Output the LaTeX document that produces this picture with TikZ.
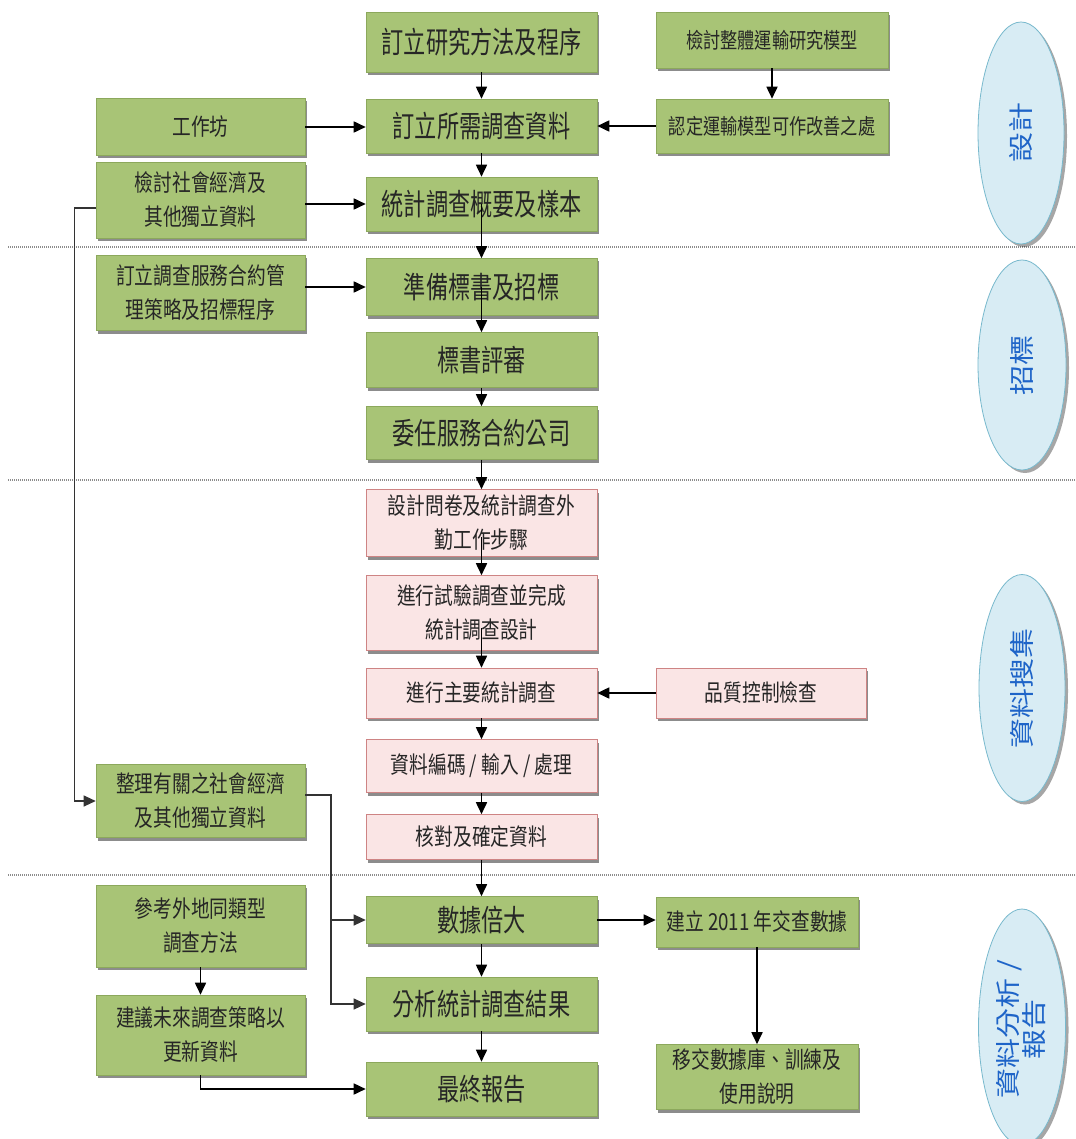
\documentclass[tikz,border=0pt]{standalone}
\usepackage{fontspec}
\setmainfont{Noto Sans CJK TC}
\newfontfamily\cjk[FakeStretch=0.8]{Noto Sans CJK TC}
\newfontfamily\cjkn[FakeStretch=0.74]{Noto Sans CJK TC}
\newfontfamily\cjkw[FakeStretch=1.2]{Noto Sans CJK TC}
\usetikzlibrary{arrows.meta,shapes.geometric,shadows}
\definecolor{gfill}{RGB}{168,196,118}
\definecolor{gline}{RGB}{140,168,92}
\definecolor{pfill}{RGB}{250,229,229}
\definecolor{pline}{RGB}{206,132,132}
\definecolor{efill}{RGB}{216,236,244}
\definecolor{eline}{RGB}{120,185,205}
\definecolor{etext}{RGB}{30,100,200}
\tikzset{
  basebox/.style={rectangle, inner sep=0pt, align=center, text=black!85, line width=0.6pt,
    drop shadow={shadow xshift=2pt, shadow yshift=-3pt, fill=black, opacity=0.45}},
  gbox/.style={basebox, fill=gfill, draw=gline},
  pbox/.style={basebox, fill=pfill, draw=pline},
  bigtxt/.style={font=\cjkn\fontsize{30}{34}\selectfont},
  smalltxt/.style={font=\cjk\fontsize{23.4}{34}\selectfont},
  toptxt/.style={font=\cjk\fontsize{21.5}{30}\selectfont},
  arr/.style={-{Triangle[length=12pt,width=11pt]}, line width=1.7pt, draw=black},
  link/.style={-{Triangle[length=12pt,width=11pt]}, line width=1.1pt, draw=black!80},
  sepline/.style={draw=black!45, line width=1.5pt, dash pattern=on 1pt off 1pt},
  phase/.style={ellipse, inner sep=0pt, fill=efill, draw=eline, line width=0.8pt,
    drop shadow={shadow xshift=3pt, shadow yshift=-3pt, fill=black, opacity=0.35}},
  phasetxt/.style={rotate=90, text=etext, align=center, font=\cjkw\fontsize{25}{26}\selectfont},
}
\begin{document}
\begin{tikzpicture}[x=1pt,y=-1pt]
\useasboundingbox (0,0) rectangle (1075,1139);
\fill[white] (0,0) rectangle (1075,1139);

% separators
\coordinate (s1a) at (8,247);  \coordinate (s1b) at (1075,247);
\coordinate (s2a) at (8,480);  \coordinate (s2b) at (1075,480);
\coordinate (s3a) at (8,875);  \coordinate (s3b) at (1075,875);
\draw[sepline] (s1a) -- (s1b);
\draw[sepline] (s2a) -- (s2b);
\draw[sepline] (s3a) -- (s3b);

% phase ellipses
\node[phase, minimum width=86pt, minimum height=222pt] (e1) at (1021,133) {};
\node[phasetxt] (e1t) at (1021,133) {設計};
\node[phase, minimum width=88pt, minimum height=210pt] (e2) at (1022,365) {};
\node[phasetxt] (e2t) at (1022,365) {招標};
\node[phase, minimum width=86pt, minimum height=227pt] (e3) at (1022,688) {};
\node[phasetxt] (e3t) at (1022,688) {資料搜集};
\node[phase, minimum width=87pt, minimum height=236pt] (e4) at (1022,1027) {};
\node[phasetxt] (e4t) at (1021,1029) {資料分析 /\\報告};

% centre column
\node[gbox, bigtxt, minimum width=231pt, minimum height=60pt] (c1) at (481.5,42) {訂立研究方法及程序};
\node[gbox, bigtxt, minimum width=231pt, minimum height=54pt] (c2) at (481.5,126) {訂立所需調查資料};
\node[gbox, bigtxt, minimum width=231pt, minimum height=54pt] (c3) at (481.5,204) {統計調查概要及樣本};
\node[gbox, bigtxt, minimum width=231pt, minimum height=57pt] (c4) at (481.5,287) {準備標書及招標};
\node[gbox, bigtxt, minimum width=231pt, minimum height=55pt] (c5) at (481.5,360) {標書評審};
\node[gbox, bigtxt, minimum width=231pt, minimum height=53pt] (c6) at (481.5,433) {委任服務合約公司};
\node[pbox, smalltxt, minimum width=231pt, minimum height=67pt] (p1) at (481.5,523) {設計問卷及統計調查外\\勤工作步驟};
\node[pbox, smalltxt, minimum width=231pt, minimum height=75pt] (p2) at (481.5,613) {進行試驗調查並完成\\統計調查設計};
\node[pbox, smalltxt, minimum width=231pt, minimum height=50pt] (p3) at (481.5,693) {進行主要統計調查};
\node[pbox, smalltxt, minimum width=231pt, minimum height=53pt] (p4) at (481.5,766) {資料編碼 / 輸入 / 處理};
\node[pbox, smalltxt, minimum width=231pt, minimum height=45pt] (p5) at (481.5,837) {核對及確定資料};
\node[gbox, bigtxt, minimum width=231pt, minimum height=47pt] (c7) at (481.5,920) {數據倍大};
\node[gbox, bigtxt, minimum width=231pt, minimum height=54pt] (c8) at (481.5,1004) {分析統計調查結果};
\node[gbox, bigtxt, minimum width=231pt, minimum height=54pt] (c9) at (481.5,1089) {最終報告};

% left column
\node[gbox, smalltxt, minimum width=209pt, minimum height=57pt] (l1) at (200.5,127) {工作坊};
\node[gbox, smalltxt, minimum width=209pt, minimum height=76pt] (l2) at (200.5,200) {檢討社會經濟及\\其他獨立資料};
\node[gbox, smalltxt, minimum width=209pt, minimum height=75pt] (l3) at (200.5,293) {訂立調查服務合約管\\理策略及招標程序};
\node[gbox, smalltxt, minimum width=209pt, minimum height=73pt] (l4) at (200.5,801) {整理有關之社會經濟\\及其他獨立資料};
\node[gbox, smalltxt, minimum width=209pt, minimum height=82pt] (l5) at (200.5,926) {參考外地同類型\\調查方法};
\node[gbox, smalltxt, minimum width=209pt, minimum height=80pt] (l6) at (200.5,1035) {建議未來調查策略以\\更新資料};

% right column
\node[gbox, toptxt, minimum width=232pt, minimum height=56pt] (r1) at (772,40) {檢討整體運輸研究模型};
\node[gbox, toptxt, minimum width=232pt, minimum height=54pt] (r2) at (772,126) {認定運輸模型可作改善之處};
\node[pbox, smalltxt, minimum width=210pt, minimum height=50pt] (r3) at (761,693) {品質控制檢查};
\node[gbox, smalltxt, minimum width=202pt, minimum height=50pt] (r4) at (757,922) {建立 2011 年交查數據};
\node[gbox, smalltxt, minimum width=202pt, minimum height=65pt] (r5) at (757,1077) {移交數據庫、訓練及\\使用說明};

% main vertical flow
\draw[arr] (c1.south) -- (c2.north);
\draw[arr] (c2.south) -- (c3.north);
\draw[arr] (c3.center) -- (c4.north);
\draw[arr] (c4.center) -- (c5.north);
\draw[arr] (c5.south) -- (c6.north);
\draw[arr] (c6.south) -- (p1.north);
\draw[arr] ([yshift=-14pt]p1.center) -- (p2.north);
\draw[arr] ([yshift=-15pt]p2.center) -- (p3.north);
\draw[arr] (p3.south) -- (p4.north);
\draw[arr] (p4.south) -- (p5.north);
\draw[arr] (p5.south) -- (c7.north);
\draw[arr] (c7.south) -- (c8.north);
\draw[arr] (c8.south) -- (c9.north);

% side inputs
\draw[arr] (l1.east) -- (l1.east -| c2.west);
\draw[arr] (c3.west -| l2.east) -- (c3.west);
\draw[arr] (c4.west -| l3.east) -- (c4.west);
\draw[arr] (r1.south) -- (r2.north);
\draw[arr] (r2.west) -- (c2.east);
\draw[arr] (r3.west) -- (p3.east);
\draw[arr] (c7.east) -- (c7.east -| r4.west);
\draw[arr] (r4.south) -- (r5.north);
\draw[arr] (l5.south) -- (l6.north);
\draw[arr] (l6.south) |- (c9.west);

% brackets
\draw[link] ([yshift=-8pt]l2.west) -- ++(-21,0) |- (l4.west);
\coordinate (bx) at (331,795);
\draw[link] ([yshift=6pt]l4.east) -| (bx |- c8.west) -- (c8.west);
\draw[link] (bx |- c7.west) -- (c7.west);
\end{tikzpicture}
\end{document}
